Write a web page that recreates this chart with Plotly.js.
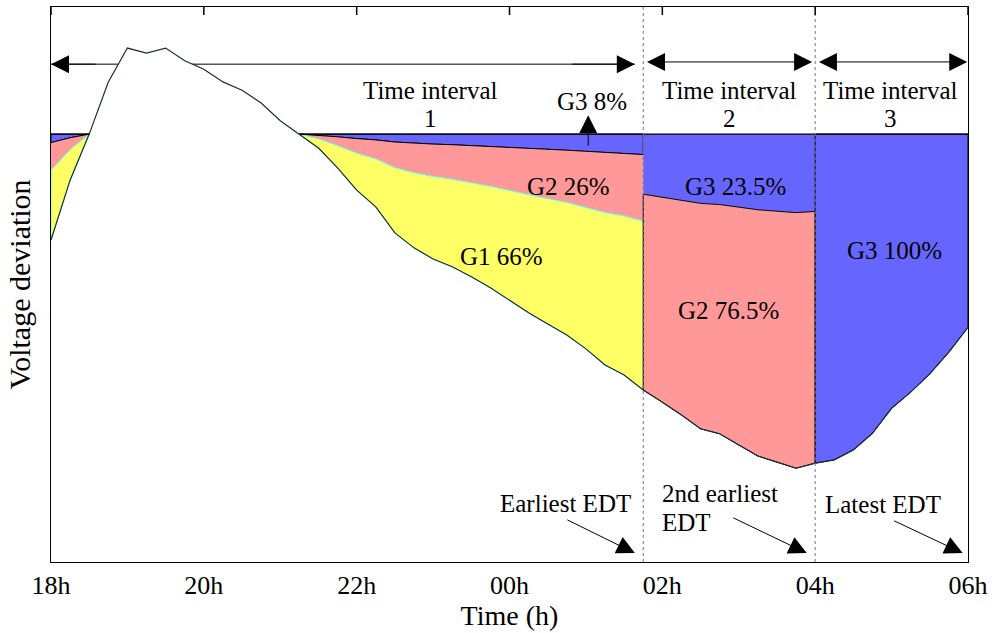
<!DOCTYPE html>
<html>
<head>
<meta charset="utf-8">
<script src="https://cdn.plot.ly/plotly-3.0.1.min.js"></script>
<style>html,body{margin:0;padding:0;background:#fff;}#chart{width:995px;height:633px;}</style>
</head>
<body>
<div id="chart"></div>
<script>
// Time in hours after 18:00 (15-minute samples)
const timeH = [0,0.25,0.5,0.75,1,1.25,1.5,1.75,2,2.25,2.5,2.75,3,3.25,3.5,3.75,4,4.25,4.5,4.75,5,5.25,5.5,5.75,6,6.25,6.5,6.75,7,7.25,7.5,7.75,8,8.25,8.5,8.75,9,9.25,9.5,9.75,10,10.25,10.5,10.75,11,11.25,11.5,11.75,12];
// Voltage curve (arbitrary units)
const voltageDev = [5.80,6.88,7.71,8.65,9.26,9.17,9.26,9.03,8.88,8.65,8.50,8.27,7.95,7.71,7.46,7.10,6.70,6.40,5.93,5.66,5.46,5.32,5.14,4.94,4.72,4.49,4.29,4.09,3.84,3.55,3.37,3.10,2.88,2.65,2.40,2.31,2.11,1.91,1.80,1.69,1.78,1.84,2.02,2.32,2.77,3.06,3.39,3.78,4.23];
const refLevel = 7.71;
// Interval boundaries (hours after 18:00): earliest EDT, 2nd earliest EDT, latest EDT
const intervalStart = [0, 7.75, 10];
const intervalEnd = [7.75, 10, 12];
// Shares of the violation covered by each group, per interval (from top band to bottom band)
const interval1Groups = ['G3','G2','G1'];
const interval1Shares = [8, 26, 66];
const interval2Groups = ['G3','G2'];
const interval2Shares = [23.5, 76.5];
const interval3Groups = ['G3'];
const interval3Shares = [100];
// Tick labels
const tickVals = [0,2,4,6,8,10,12];
const tickText = ['18h','20h','22h','00h','02h','04h','06h'];

const groupColor = {G1:'#FFFF66', G2:'#FF9999', G3:'#6666FF'};
const NONE = 'rgba(0,0,0,0)';

function dev(i){return Math.max(0, refLevel - voltageDev[i]);}
// contiguous runs of indices inside [a,b] where the voltage is at or below the reference
function runs(a,b){
  const out=[]; let cur=[];
  timeH.forEach((t,i)=>{
    const inside = t>=a-1e-9 && t<=b+1e-9 && voltageDev[i] <= refLevel;
    if(inside){cur.push(i);} else if(cur.length){out.push(cur); cur=[];}
  });
  if(cur.length) out.push(cur);
  return out.filter(r=>r.length>1);
}

const traces = [];
// white area below the curve (hides the interval-1 arrow shaft behind the curve)
traces.push({x:timeH, y:voltageDev, type:'scatter', mode:'lines', fill:'tozeroy', fillcolor:'#ffffff', line:{width:0}, hoverinfo:'skip', showlegend:false});

function bands(k, groups, shares, edges){
  runs(intervalStart[k], intervalEnd[k]).forEach(idx=>{
    let cum = 0;
    groups.forEach((g,j)=>{
      const f0 = cum/100, f1 = (cum+shares[j])/100; cum += shares[j];
      const xs = [], ys = [];
      idx.forEach(i=>{xs.push(timeH[i]); ys.push(refLevel - f0*dev(i));});
      idx.slice().reverse().forEach(i=>{xs.push(timeH[i]); ys.push(refLevel - f1*dev(i));});
      xs.push(xs[0]); ys.push(ys[0]);
      traces.push({x:xs, y:ys, type:'scatter', mode:'lines', fill:'toself', fillcolor:groupColor[g],
        line:{color:edges[j], width:1}, hoverinfo:'skip', showlegend:false});
    });
  });
}
bands(0, interval1Groups, interval1Shares, ['#000000', NONE, '#55FFFF']);
bands(1, interval2Groups, interval2Shares, [NONE, '#000000']);
bands(2, interval3Groups, interval3Shares, ['#000000']);

// G3/G2 boundary line in interval 1 (drawn on top of the G2 band)
runs(intervalStart[0], intervalEnd[0]).forEach(idx=>{
  traces.push({x:idx.map(i=>timeH[i]), y:idx.map(i=>refLevel - interval1Shares[0]/100*dev(i)), type:'scatter', mode:'lines',
    line:{color:'#000000', width:1}, hoverinfo:'skip', showlegend:false});
});
// reference level line (only where the voltage is below it)
traces.push({x:timeH, y:timeH.map((t,i)=> voltageDev[i] <= refLevel ? refLevel : null), type:'scatter', mode:'lines',
  line:{color:'#000000', width:1.2}, connectgaps:false, hoverinfo:'skip', showlegend:false});
// voltage curve
traces.push({x:timeH, y:voltageDev, type:'scatter', mode:'lines', line:{color:'#1a3030', width:1.2}, hoverinfo:'skip', showlegend:false});

const F = 'Liberation Serif';
const FS = 25;
const txt = (x,y,text,extra)=>Object.assign({x:x,y:y,xref:'x',yref:'y',text:text,showarrow:false,font:{family:F,size:FS,color:'#000'}},extra||{});
const arr = (x,y,ax,ay,extra)=>Object.assign({x:x,y:y,ax:ax,ay:ay,xref:'x',yref:'y',text:'',showarrow:true,arrowhead:2,arrowsize:3.6,arrowwidth:1,arrowcolor:'#000'},extra||{});

const annotations = [
  txt(4.96, 8.50, 'Time interval'), txt(4.96, 8.00, '1'),
  txt(8.88, 8.50, 'Time interval'), txt(8.88, 8.00, '2'),
  txt(10.98, 8.50, 'Time interval'), txt(10.98, 8.00, '3'),
  txt(7.08, 8.29, 'G3 8%'),
  txt(6.77, 6.76, 'G2 26%'),
  txt(5.90, 5.51, 'G1 66%'),
  txt(8.96, 6.76, 'G3 23.5%'),
  txt(8.86, 4.54, 'G2 76.5%'),
  txt(11.04, 5.62, 'G3 100%'),
  txt(6.73, 1.06, 'Earliest EDT'),
  txt(7.97, 1.24, '2nd earliest', {xanchor:'left'}),
  txt(7.97, 0.72, 'EDT', {xanchor:'left'}),
  txt(10.89, 1.03, 'Latest EDT'),
  // G3 8% pointer
  arr(7.03, 8.05, 0, 32),
  // EDT arrows
  arr(7.64, 0.16, -69, -34),
  arr(9.89, 0.16, -75, -36),
  arr(11.93, 0.16, -70, -33),
  // interval 1 arrow heads
  arr(0.0, 8.97, 0.6, 8.97, {axref:'x', ayref:'y'}),
  arr(7.64, 8.97, 6.8, 8.97, {axref:'x', ayref:'y'}),
  // interval 2 and 3 double arrows
  arr(9.96, 9.01, 7.78, 9.01, {axref:'x', ayref:'y', arrowside:'end+start'}),
  arr(11.99, 9.01, 10.03, 9.01, {axref:'x', ayref:'y', arrowside:'end+start'})
];

const shapes = [
  // interval-1 arrow shaft, beneath the curve
  {type:'line', xref:'x', yref:'y', x0:0, x1:7.64, y0:8.97, y1:8.97, line:{color:'#000', width:1}, layer:'below'},
  // EDT dotted separators
  {type:'line', xref:'x', yref:'paper', x0:intervalEnd[0], x1:intervalEnd[0], y0:0, y1:1, line:{color:'#777', width:1, dash:'dot'}, layer:'above'},
  {type:'line', xref:'x', yref:'paper', x0:intervalEnd[1], x1:intervalEnd[1], y0:0, y1:1, line:{color:'#777', width:1, dash:'dot'}, layer:'above'}
];
// inward tick marks along the top border only
tickVals.forEach(v=>{
  shapes.push({type:'line', xref:'x', yref:'paper', x0:v, x1:v, y0:1, y1:1-8/555, line:{color:'#000', width:1.5}, layer:'above'});
});

const layout = {
  width:995, height:633,
  margin:{l:51, r:27, t:7, b:71},
  paper_bgcolor:'#fff', plot_bgcolor:'#fff',
  hovermode:false, showlegend:false,
  font:{family:F, color:'#000'},
  xaxis:{range:[0,12], tickvals:tickVals, ticktext:tickText, ticks:'',
    showline:true, linecolor:'#000', linewidth:1, mirror:true, showgrid:false, zeroline:false,
    tickfont:{family:F, size:26, color:'#000'},
    title:{text:'Time (h)', font:{family:F, size:28, color:'#000'}, standoff:2}},
  yaxis:{range:[0,10], showticklabels:false, ticks:'', showline:true, linecolor:'#000', linewidth:1, mirror:true,
    showgrid:false, zeroline:false,
    title:{text:'Voltage deviation', font:{family:F, size:30, color:'#000'}, standoff:10}},
  annotations:annotations,
  shapes:shapes
};

Plotly.newPlot('chart', traces, layout, {staticPlot:true, displayModeBar:false});
</script>
</body>
</html>
